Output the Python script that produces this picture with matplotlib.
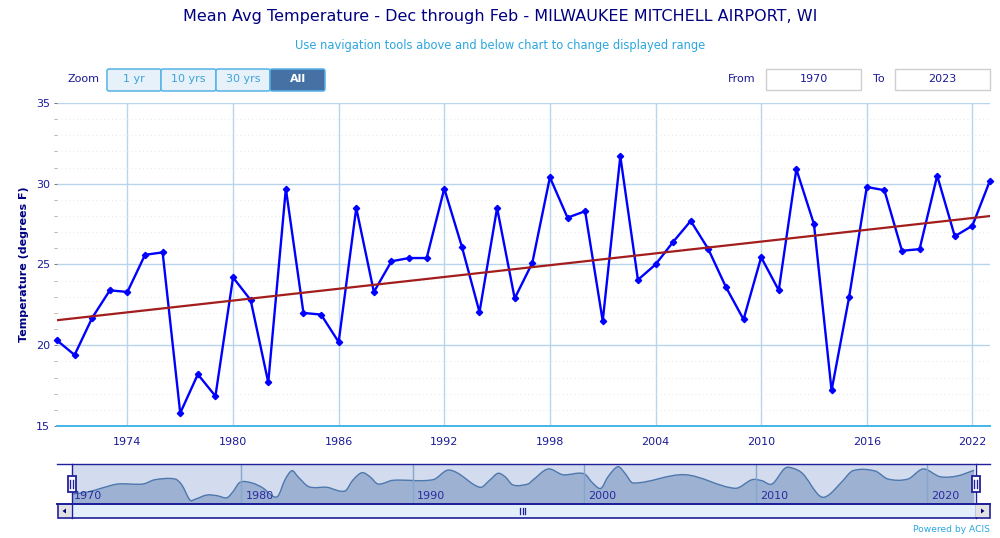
#!/usr/bin/python3

import numpy as np
import matplotlib
matplotlib.use("Agg")
import matplotlib.pyplot as plt
from matplotlib.patches import Rectangle, Polygon, FancyBboxPatch, PathPatch
from matplotlib.path import Path

years = list(range(1970, 2024))
temps = [20.3, 19.4, 21.7, 23.4, 23.3, 25.6, 25.75, 15.8, 18.2, 16.85,
         24.2, 22.8, 17.7, 29.7, 22.0, 21.9, 20.2, 28.5, 23.3, 25.2,
         25.4, 25.4, 29.7, 26.1, 22.05, 28.5, 22.9, 25.1, 30.4, 27.9,
         28.3, 21.5, 31.7, 24.05, 25.0, 26.4, 27.7, 25.95, 23.6, 21.6,
         25.45, 23.4, 30.9, 27.5, 17.2, 23.0, 29.8, 29.6, 25.85, 25.95,
         30.5, 26.75, 27.4, 30.2]
trend_years = [1970, 2023]
trend_temps = [21.55, 28.0]

x_ticks = [1974, 1980, 1986, 1992, 1998, 2004, 2010, 2016, 2022]
y_ticks = [15, 20, 25, 30, 35]

# navigator strip (height of the area above the strip floor)
nav_years = [1970.12, 1971.05, 1971.87, 1972.80, 1974.26, 1974.96, 1976.13, 1976.53,
             1977.00, 1977.29, 1977.99, 1978.58, 1979.16, 1979.51, 1979.92, 1980.62,
             1981.26, 1981.79, 1982.14, 1982.54, 1982.95, 1983.30, 1983.94, 1984.99,
             1986.04, 1986.51, 1987.04, 1987.50, 1987.97, 1988.84, 1991.18, 1992.00,
             1992.58, 1993.92, 1994.50, 1994.97, 1995.38, 1995.85, 1996.72, 1997.01,
             1997.89, 1998.76, 1999.99, 2000.51, 2000.98, 2001.39, 2001.97, 2002.38,
             2002.85, 2005.88, 2008.80, 2009.79, 2010.37, 2010.96, 2011.71, 2012.18,
             2012.77, 2013.58, 2013.93, 2014.34, 2015.04, 2015.68, 2016.97, 2017.72,
             2018.89, 2019.77, 2020.76, 2021.75, 2022.74]
nav_level = [10.0, 12.0, 16.0, 20.0, 20.0, 24.3, 25.0, 19.0,
             4.0, 4.7, 9.0, 8.3, 6.3, 12.3, 21.7, 21.0,
             16.0, 8.3, 8.0, 24.0, 33.3, 27.3, 17.3, 16.7,
             13.0, 24.0, 31.3, 27.3, 20.0, 23.7, 24.3, 33.7,
             31.3, 16.7, 24.0, 30.7, 27.3, 19.0, 20.0, 24.0,
             35.0, 29.3, 30.3, 20.7, 15.7, 27.3, 37.3, 30.7,
             21.0, 29.3, 15.7, 24.3, 23.3, 20.0, 35.7, 35.7,
             30.0, 10.7, 6.7, 10.0, 22.3, 33.3, 33.0, 25.0,
             25.0, 35.0, 27.3, 28.0, 33.7]
nav_decades = [1980, 1990, 2000, 2010, 2020]
nav_labels = [1970, 1980, 1990, 2000, 2010, 2020]

NAVY = "#000080"
TEXT_BLUE = "#1a1a96"
LIGHT_BLUE = "#2ba6e0"
GRID = "#b7d6ee"
FRAME = "#20209a"

plt.rcParams["font.family"] = "DejaVu Sans"

fig = plt.figure(figsize=(10, 5.38), dpi=100)
W, H = 1000.0, 538.0

def px_axes(left, top, right, bottom):
    return fig.add_axes([left / W, (H - bottom) / H, (right - left) / W, (bottom - top) / H])

# bezier path through the read points so the strip has round shoulders like the original
def curve_verts(xs, ys):
    xs = np.array(xs)
    ys = np.array(ys)
    verts = [(xs[0], ys[0])]
    n = len(xs)
    for i in range(n - 1):
        dx = xs[i + 1] - xs[i]
        s0 = (ys[min(i + 1, n - 1)] - ys[max(i - 1, 0)]) / (xs[min(i + 1, n - 1)] - xs[max(i - 1, 0)])
        s1 = (ys[min(i + 2, n - 1)] - ys[i]) / (xs[min(i + 2, n - 1)] - xs[i])
        verts.append((xs[i] + dx / 3, ys[i] + s0 * dx / 3))
        verts.append((xs[i + 1] - dx / 3, ys[i + 1] - s1 * dx / 3))
        verts.append((xs[i + 1], ys[i + 1]))
    return verts

###################################
# main chart
###################################
ax = px_axes(57, 103, 990, 426)
ax.set_xlim(1970, 2023)
ax.set_ylim(15, 35)
for s in ax.spines.values():
    s.set_visible(False)

ax.set_xticks(x_ticks)
ax.set_yticks(y_ticks)
ax.set_yticks([v for v in range(15, 36) if v % 5 != 0], minor=True)
ax.grid(True, which="major", axis="both", color=GRID, lw=1.0)
ax.grid(True, which="minor", axis="y", color="#e6e6e6", lw=0.7, ls=(0, (1, 3)))
ax.axhline(15, color="#45b5ea", lw=1.4, clip_on=False, zorder=2)
ax.set_axisbelow(True)
ax.tick_params(axis="x", which="major", length=0, pad=8, labelsize=8, labelcolor=TEXT_BLUE)
ax.tick_params(axis="y", which="major", length=2, width=0.7, color="#777777", pad=3, labelsize=8, labelcolor=TEXT_BLUE)
ax.tick_params(axis="y", which="minor", length=2, width=0.6, color="#aaaaaa")
ax.set_ylabel("Temperature (degrees F)", fontsize=8, fontweight="bold", color=NAVY, labelpad=5)

ax.plot(years, temps, color="#0000ff", lw=1.7, marker="D", ms=3.2, zorder=3, clip_on=False)
ax.plot(trend_years, trend_temps, color="#a31d1d", lw=1.6, zorder=4)

###################################
# navigator
###################################
nav = px_axes(72, 464, 975, 504)
nav.set_xlim(1970.12, 2022.8)
nav.set_ylim(0, 40)
nav.set_facecolor("#d3dcee")
nav.set_xticks([])
nav.set_yticks([])
for s in nav.spines.values():
    s.set_visible(False)

verts = curve_verts(nav_years, nav_level)
codes = [Path.MOVETO] + [Path.CURVE4] * (len(verts) - 1)
area_verts = verts + [(nav_years[-1], 0), (nav_years[0], 0), verts[0]]
area_codes = codes + [Path.LINETO, Path.LINETO, Path.CLOSEPOLY]
nav.add_patch(PathPatch(Path(area_verts, area_codes), fc="#9db2d3", ec="none", zorder=2))
nav.add_patch(PathPatch(Path(verts, codes), fc="none", ec="#4e78ad", lw=1.0, zorder=3))
for d in nav_decades:
    nav.axvline(d, color="#86a6cf", lw=1.0, zorder=4)
for d in nav_labels:
    nav.text(d + 0.25, 8, str(d), fontsize=8, color="#2a2aa0", ha="left", va="center",
             zorder=5, clip_on=False)

###################################
# buttons, boxes and other page furniture, in pixels
###################################
ui = fig.add_axes([0, 0, 1, 1], zorder=10)
ui.set_xlim(0, W)
ui.set_ylim(H, 0)
ui.axis("off")
ui.patch.set_alpha(0)

ui.text(500, 17, "Mean Avg Temperature - Dec through Feb - MILWAUKEE MITCHELL AIRPORT, WI",
        fontsize=11.5, color=NAVY, ha="center", va="center")
ui.text(500, 45, "Use navigation tools above and below chart to change displayed range",
        fontsize=8.3, color=LIGHT_BLUE, ha="center", va="center")

ui.text(68, 79.5, "Zoom", fontsize=8, color=TEXT_BLUE, ha="left", va="center")
buttons = [("1 yr", 107, 161), ("10 yrs", 161, 216), ("30 yrs", 216, 270), ("All", 270, 325)]
for label, x0, x1 in buttons:
    active = label == "All"
    ui.add_patch(FancyBboxPatch((x0 + 1, 70), x1 - x0 - 2, 20, boxstyle="round,pad=1,rounding_size=2",
                                fc="#4671a5" if active else "#e6f1fa", ec="#55b3e6", lw=1.1))
    ui.text((x0 + x1) / 2, 79.5, label, fontsize=8, ha="center", va="center",
            color="white" if active else "#3fa4d8", fontweight="bold" if active else "normal")

ui.text(728, 78.5, "From", fontsize=8, color=TEXT_BLUE, ha="left", va="center")
ui.text(873, 78.5, "To", fontsize=8, color=TEXT_BLUE, ha="left", va="center")
for val, x0, x1 in [("1970", 766, 861), ("2023", 895, 990)]:
    ui.add_patch(Rectangle((x0, 69), x1 - x0, 21, fc="white", ec="#cfcfcf", lw=1.0))
    ui.text((x0 + x1) / 2, 78.5, val, fontsize=8, color=TEXT_BLUE, ha="center", va="center")

# navigator frame
ui.plot([57, 990], [463.5, 463.5], color=FRAME, lw=1.0)
ui.plot([57, 990], [504, 504], color=FRAME, lw=1.4)
for hx in (71.5, 975.5):
    ui.plot([hx, hx], [463.5, 518], color=FRAME, lw=1.0)
    ui.add_patch(Rectangle((hx - 4, 476), 8.5, 15.5, fc="white", ec=FRAME, lw=1.3, zorder=5))
    for dx in (-1.2, 1.6):
        ui.plot([hx + dx, hx + dx], [479.5, 488], color=FRAME, lw=1.0, zorder=6)

# scrollbar
ui.add_patch(Rectangle((57.5, 504), 932, 14, fc="#e3effa", ec=FRAME, lw=1.2, zorder=1))
ui.add_patch(Rectangle((58.5, 505), 12.5, 12, fc="#e2e2e2", ec="none", zorder=2))
ui.add_patch(Rectangle((976, 505), 12.5, 12, fc="#e2e2e2", ec="none", zorder=2))
ui.add_patch(Polygon([[66, 508.5], [66, 513.5], [62.5, 511]], fc=NAVY, ec="none", zorder=3))
ui.add_patch(Polygon([[981, 508.5], [981, 513.5], [984.5, 511]], fc=NAVY, ec="none", zorder=3))
for bx in (520, 522.5, 525):
    ui.plot([bx, bx], [508, 513.5], color=FRAME, lw=0.9, zorder=3)

ui.text(990, 530, "Powered by ACIS", fontsize=6.6, color=LIGHT_BLUE, ha="right", va="center")

fig.savefig("out.png", dpi=100)
